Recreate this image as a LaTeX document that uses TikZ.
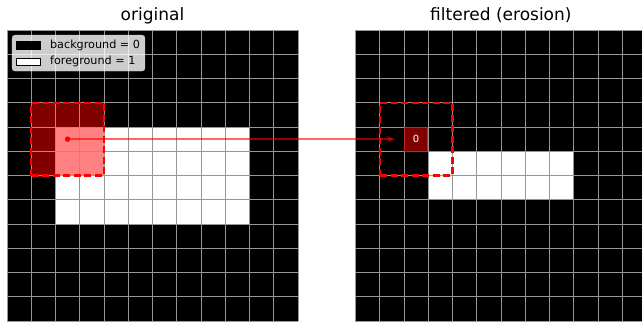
\documentclass[tikz,border=0pt]{standalone}
\usepackage{fontspec}
\setmainfont{DejaVu Sans}
\usetikzlibrary{arrows.meta}
\definecolor{cellbg}{RGB}{0,0,0}
\definecolor{cellfg}{RGB}{255,255,255}
\definecolor{hitdark}{RGB}{128,0,0}
\definecolor{hitlight}{RGB}{255,128,128}
\definecolor{hitedge}{RGB}{190,40,40}
\definecolor{gridgray}{RGB}{150,150,150}
\definecolor{legendedge}{RGB}{204,204,204}

\begin{document}
\begin{tikzpicture}[x=24.25pt, y=24.25pt,
  gridline/.style={gridgray, line width=0.6pt},
  window/.style={red, line width=2.2pt, dash pattern=on 7pt off 3.5pt},
  paneltitle/.style={font=\fontsize{17}{20}\selectfont},
  legendtext/.style={font=\fontsize{11.2}{13}\selectfont, anchor=west, inner sep=0pt}]
  \useasboundingbox (-0.289,0) rectangle (26.19,13.24);
  \clip (-0.289,0) rectangle (26.19,13.24);

  % Panel titles
  \node[paneltitle] (titleL) at (6, 12.6) {original};
  \node[paneltitle] (titleR) at (20.37, 12.6) {filtered (erosion)};

  % Original image: background 0, foreground block 1
  \fill[cellbg] (0,0) rectangle (12,12);
  \fill[cellfg] (2,4) rectangle (10,8);
  % 3x3 window round (col 2, row 4)
  \fill[hitdark] (1,6) rectangle (4,9);
  \fill[hitlight] (2,6) rectangle (4,8);
  \draw[gridline] (0,0) grid[step=1] (12,12);
  \draw[window] (1,6) rectangle (4,9);
  \coordinate (probe) at (2.5,7.5);

  % Legend
  \draw[legendedge, fill=white, fill opacity=0.8, rounded corners=3pt] (0.21,10.31) rectangle (5.69,11.79);
  \filldraw[fill=black, draw=black] (0.37,11.22) rectangle (1.36,11.55);
  \node[legendtext] (bgkey) at (1.77,11.38) {background = 0};
  \filldraw[fill=white, draw=black, line width=0.8pt] (0.37,10.56) rectangle (1.36,10.85);
  \node[legendtext] (fgkey) at (1.77,10.70) {foreground = 1};

  % Eroded image
  \begin{scope}[xshift=348.5pt]
    \fill[cellbg] (0,0) rectangle (12,12);
    \fill[cellfg] (3,5) rectangle (9,7);
    \draw[gridline] (0,0) grid[step=1] (12,12);
    \node[fill=hitdark, draw=hitedge, line width=0.8pt, minimum size=23.5pt, inner sep=0pt,
      text=white, font=\fontsize{10}{12}\selectfont] (zero) at (2.5,7.5) {0};
    \draw[window] (1,6) rectangle (4,9);
  \end{scope}

  % Window centre -> output pixel
  \draw[red, opacity=0.6, line width=1.5pt, -{Stealth[length=8pt, width=6pt]}, shorten >=9pt] (probe) -- (zero);
  \node[circle, fill=red, inner sep=0pt, minimum size=5.5pt] (dot) at (probe) {};

\end{tikzpicture}
\end{document}
